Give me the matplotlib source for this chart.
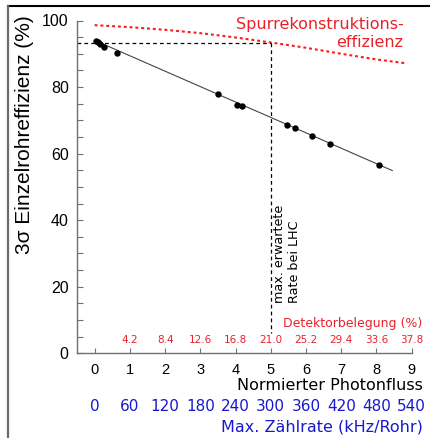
import matplotlib
matplotlib.use('Agg')
import matplotlib.pyplot as plt
from matplotlib.lines import Line2D

# ---- data ----
flux = [0.05, 0.10, 0.16, 0.28, 0.64, 3.49, 4.04, 4.19, 5.47, 5.68, 6.16, 6.68, 8.06]
eff = [93.7, 93.4, 93.0, 92.1, 90.1, 77.8, 74.6, 74.3, 68.6, 67.7, 65.2, 63.0, 56.7]
fit_x = [0.05, 8.45]
fit_y = [93.8, 54.9]
track_x = [0.0, 1.0, 2.0, 3.0, 4.0, 5.0, 6.0, 7.0, 8.0, 8.8]
track_y = [98.6, 98.0, 97.2, 96.2, 94.9, 93.4, 91.8, 90.0, 88.3, 87.2]
flux_ticks = [0, 1, 2, 3, 4, 5, 6, 7, 8, 9]
occupancy_labels = ['4.2', '8.4', '12.6', '16.8', '21.0', '25.2', '29.4', '33.6', '37.8']
rate_labels = ['0', '60', '120', '180', '240', '300', '360', '420', '480', '540']
lhc_flux = 5.0
lhc_eff = 93.3
lhc_line_bottom = 6.0

RED = '#e8222b'
BLUE = '#1818cc'
SPINE = '#707070'

AX_BOTTOM_PX = 353.3
AX_HEIGHT_PX = 332.8

fig = plt.figure(figsize=(4.30, 4.38), dpi=100)
ax = fig.add_axes([77 / 430, 1 - AX_BOTTOM_PX / 438, 334.7 / 430, AX_HEIGHT_PX / 438])

ax.set_xlim(-0.5, 9)
ax.set_ylim(0, 100)

# red dotted track reconstruction efficiency
ax.plot(track_x, track_y, color='#ff1a1a', lw=1.5, linestyle=(0, (1.4, 1.4)))
# fit line
ax.plot(fit_x, fit_y, color='#444444', lw=0.8)
# data points
ax.plot(flux, eff, 'o', color='black', ms=4.6, mew=0)
# LHC dashed lines
ax.plot([-0.5, lhc_flux], [lhc_eff, lhc_eff], color='black', lw=0.9, linestyle=(0, (3, 2.5)))
ax.plot([lhc_flux, lhc_flux], [lhc_eff, lhc_line_bottom], color='black', lw=0.9,
        linestyle=(0, (3, 2.5)))

ax.text(lhc_flux + 0.06, 15.1, 'max. erwartete\nRate bei LHC', rotation=90,
        ha='left', va='bottom', multialignment='left', fontsize=9.2,
        family='DejaVu Sans', color='black', linespacing=1.25)

# spines and ticks
for s in ['top', 'right']:
    ax.spines[s].set_visible(False)
for s in ['left', 'bottom']:
    ax.spines[s].set_color(SPINE)
    ax.spines[s].set_linewidth(1.0)

ax.set_yticks([0, 20, 40, 60, 80, 100])
ax.set_yticks(range(0, 101, 5), minor=True)
ax.set_xticks(flux_ticks)
ax.tick_params(axis='y', which='both', direction='in', length=4, width=0.8, color=SPINE,
               labelsize=11.5, pad=6)
ax.tick_params(axis='x', which='major', direction='in', length=3.5, width=0.8, color=SPINE,
               labelsize=10.5, pad=7)
for lab in ax.get_xticklabels() + ax.get_yticklabels():
    lab.set_family('Liberation Sans')

xtrans = ax.get_xaxis_transform()

# red occupancy labels inside plot
for xv, lab in zip(flux_ticks[1:], occupancy_labels):
    ax.text(xv, (AX_BOTTOM_PX - 340) / AX_HEIGHT_PX, lab, transform=xtrans,
            ha='center', va='center', fontsize=7.5, color=RED, family='DejaVu Sans')

ax.text(1.033, (AX_BOTTOM_PX - 324) / AX_HEIGHT_PX, 'Detektorbelegung (%)',
        transform=ax.transAxes, ha='right', va='center', fontsize=9, color=RED,
        family='DejaVu Sans', clip_on=False)

# blue rate labels below axis
for xv, lab in zip(flux_ticks, rate_labels):
    ax.text(xv, (AX_BOTTOM_PX - 406.7) / AX_HEIGHT_PX, lab, transform=xtrans,
            ha='center', va='center', fontsize=11, color=BLUE, family='DejaVu Sans',
            clip_on=False)

fig.text(422.7 / 430, 1 - 385 / 438, 'Normierter Photonfluss', ha='right', va='center',
         fontsize=11.5, color='black', family='DejaVu Sans')
fig.text(422.7 / 430, 1 - 426.7 / 438, 'Max. Zählrate (kHz/Rohr)', ha='right', va='center',
         fontsize=11.5, color=BLUE, family='DejaVu Sans')
fig.text(403.3 / 430, 1 - 33.3 / 438, 'Spurrekonstruktions-\neffizienz', ha='right',
         va='center', multialignment='right', fontsize=11.5, color=RED,
         family='DejaVu Sans', linespacing=1.25)
fig.text(25 / 430, 1 - 135 / 438, '3σ Einzelrohreffizienz (%)', rotation=90,
         ha='center', va='center', fontsize=15, color='black',
         family=['Liberation Sans', 'DejaVu Sans'])

# frame lines from original crop
fig.add_artist(Line2D([8 / 430, 1.0], [1 - 6 / 438, 1 - 6 / 438], color='black', lw=1.5,
                      transform=fig.transFigure))
fig.add_artist(Line2D([7.5 / 430, 7.5 / 430], [0, 1 - 6 / 438], color='#6a6a6a', lw=1.6,
                      transform=fig.transFigure))

fig.savefig('out.png', dpi=100)
